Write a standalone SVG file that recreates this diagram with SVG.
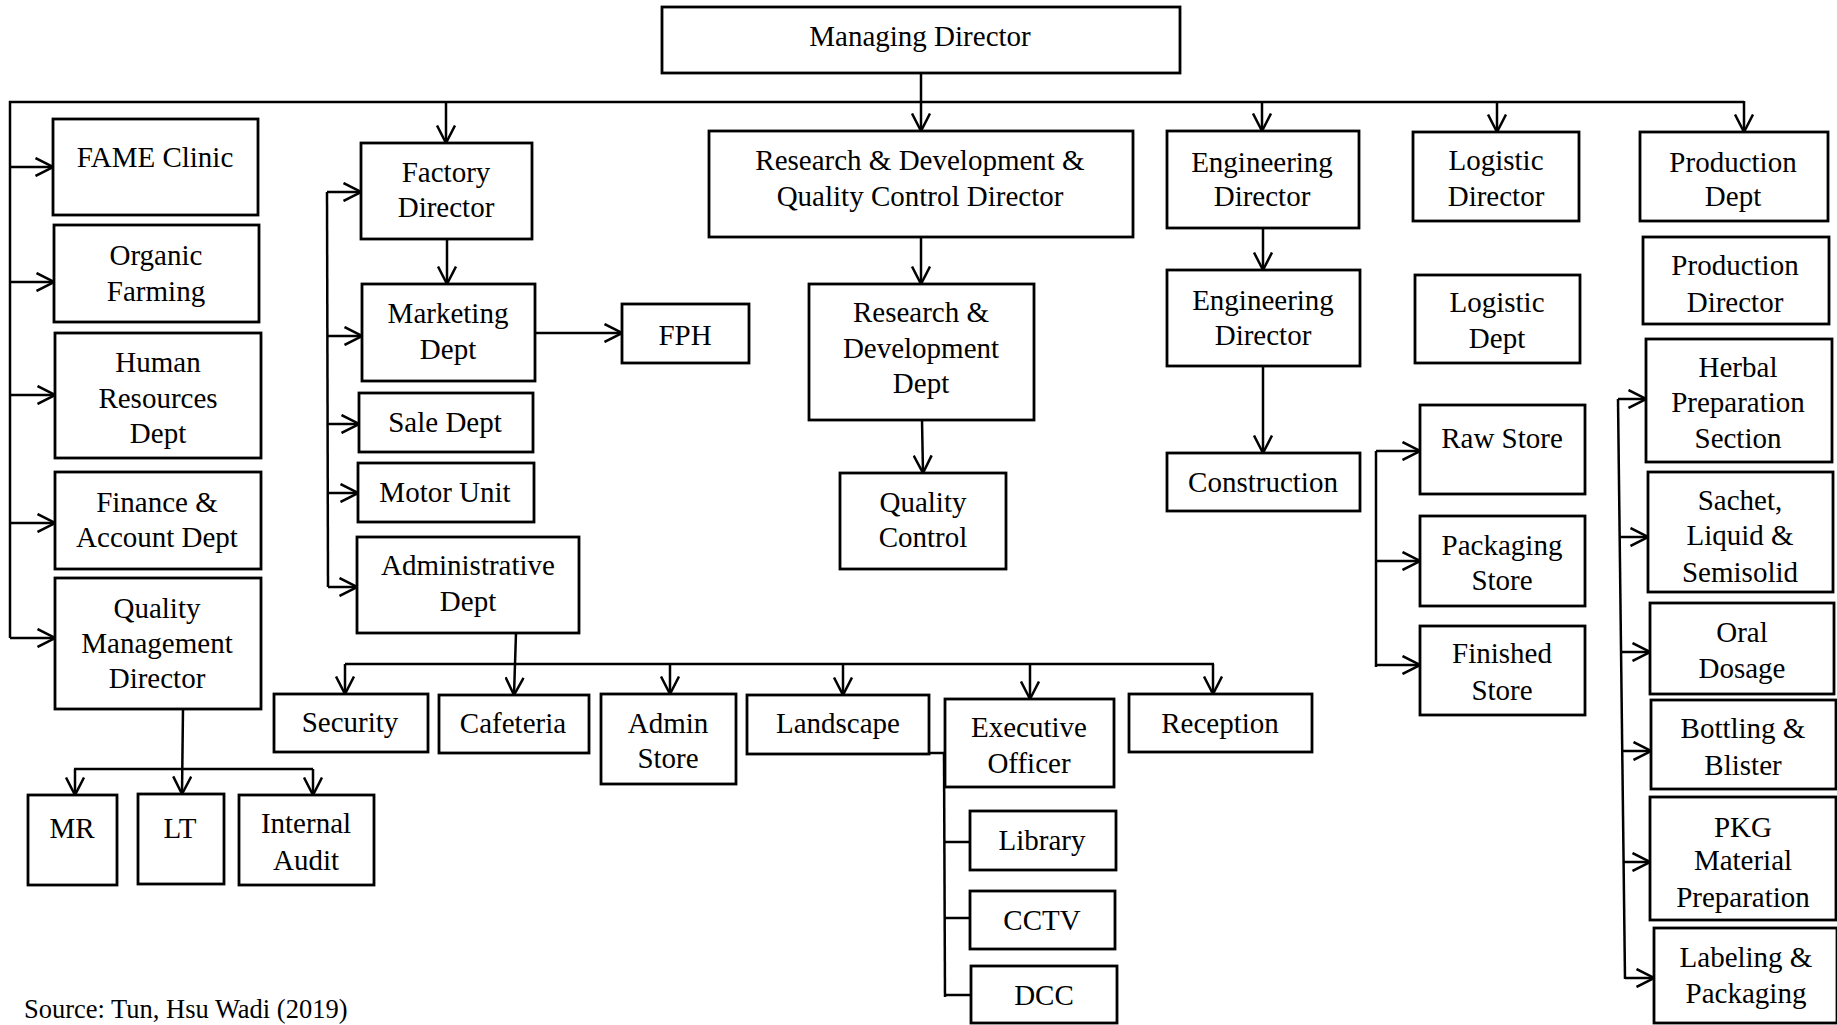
<svg xmlns="http://www.w3.org/2000/svg" width="1837" height="1025" viewBox="0 0 1837 1025">
<style>
.box{fill:#fff;stroke:#000;stroke-width:2.8}
.t{font-family:"Liberation Serif","Times New Roman",serif;font-size:29px;text-anchor:middle;fill:#000}
.src{font-family:"Liberation Serif","Times New Roman",serif;font-size:26.5px;fill:#000}
.c{fill:none;stroke:#000;stroke-width:2.5}
.a{fill:none;stroke:#000;stroke-width:2.5;marker-end:url(#arr)}
</style>
<defs>
<marker id="arr" viewBox="0 0 20 20" refX="18.5" refY="10" markerWidth="20" markerHeight="20" markerUnits="userSpaceOnUse" orient="auto">
<path d="M1,1 L18.5,10 L1,19" fill="none" stroke="#000" stroke-width="2.5"/>
</marker>
</defs>
<rect width="1837" height="1025" fill="#fff"/>

<g id="connectors">
<!-- main bus -->
<polyline class="c" points="10,638 10,102 1744,102"/>
<line class="a" x1="1744" y1="101" x2="1744" y2="132"/>
<line class="a" x1="921" y1="73" x2="921" y2="131"/>
<line class="a" x1="446" y1="102" x2="446" y2="143"/>
<line class="a" x1="1262" y1="102" x2="1262" y2="131"/>
<line class="a" x1="1497" y1="102" x2="1497" y2="132"/>
<!-- left column -->
<line class="a" x1="10" y1="167" x2="53" y2="167"/>
<line class="a" x1="10" y1="282" x2="54" y2="282"/>
<line class="a" x1="10" y1="395" x2="55" y2="395"/>
<line class="a" x1="10" y1="523" x2="55" y2="523"/>
<line class="a" x1="10" y1="638" x2="55" y2="638"/>
<!-- QMD children -->
<line class="a" x1="183" y1="709" x2="182" y2="794"/>
<line class="c" x1="74" y1="769" x2="313" y2="769"/>
<line class="a" x1="75" y1="769" x2="75" y2="795"/>
<line class="a" x1="313" y1="769" x2="313" y2="795"/>
<!-- factory column -->
<line class="c" x1="327" y1="192" x2="328" y2="587"/>
<line class="a" x1="327" y1="192" x2="361" y2="192"/>
<line class="a" x1="327" y1="336" x2="362" y2="336"/>
<line class="a" x1="327" y1="424" x2="359" y2="424"/>
<line class="a" x1="328" y1="493" x2="358" y2="493"/>
<line class="a" x1="328" y1="587" x2="357" y2="587"/>
<line class="a" x1="447" y1="239" x2="447" y2="284"/>
<line class="a" x1="535" y1="333" x2="622" y2="333"/>
<!-- admin children -->
<line class="a" x1="516" y1="633" x2="514" y2="695"/>
<line class="c" x1="345" y1="664" x2="1214" y2="664"/>
<line class="a" x1="345" y1="664" x2="345" y2="694"/>
<line class="a" x1="670" y1="664" x2="670" y2="694"/>
<line class="a" x1="843" y1="664" x2="843" y2="695"/>
<line class="a" x1="1030" y1="664" x2="1030" y2="699"/>
<line class="a" x1="1213" y1="664" x2="1213" y2="694"/>
<!-- EO children -->
<line class="c" x1="920" y1="753" x2="946" y2="753"/>
<line class="c" x1="944" y1="753" x2="945" y2="997"/>
<line class="c" x1="944" y1="842" x2="970" y2="842"/>
<line class="c" x1="944" y1="918" x2="970" y2="918"/>
<line class="c" x1="945" y1="995" x2="971" y2="995"/>
<!-- R&D -->
<line class="a" x1="921" y1="237" x2="921" y2="284"/>
<line class="a" x1="922" y1="420" x2="923" y2="473"/>
<!-- engineering -->
<line class="a" x1="1263" y1="228" x2="1263" y2="270"/>
<line class="a" x1="1263" y1="366" x2="1263" y2="453"/>
<!-- logistic stores -->
<line class="c" x1="1376" y1="451" x2="1376" y2="667"/>
<line class="a" x1="1376" y1="451" x2="1420" y2="451"/>
<line class="a" x1="1376" y1="561" x2="1420" y2="561"/>
<line class="a" x1="1376" y1="665" x2="1420" y2="665"/>
<!-- production sections -->
<line class="c" x1="1618" y1="399" x2="1625" y2="979"/>
<line class="a" x1="1618" y1="399" x2="1646" y2="399"/>
<line class="a" x1="1620" y1="537" x2="1648" y2="537"/>
<line class="a" x1="1621" y1="652" x2="1650" y2="652"/>
<line class="a" x1="1622" y1="751" x2="1651" y2="751"/>
<line class="a" x1="1623" y1="862" x2="1650" y2="862"/>
<line class="a" x1="1625" y1="978" x2="1654" y2="978"/>
</g>

<g id="managing-director"><rect class="box" x="662" y="7" width="518" height="66"/><text class="t" x="920" y="46">Managing Director</text></g>

<g id="fame-clinic"><rect class="box" x="53" y="119" width="205" height="96"/><text class="t" x="155" y="167">FAME Clinic</text></g>
<g id="organic-farming"><rect class="box" x="54" y="225" width="205" height="97"/><text class="t" x="156" y="265">Organic</text><text class="t" x="156" y="301">Farming</text></g>
<g id="human-resources"><rect class="box" x="55" y="333" width="206" height="125"/><text class="t" x="158" y="372">Human</text><text class="t" x="158" y="408">Resources</text><text class="t" x="158" y="443">Dept</text></g>
<g id="finance"><rect class="box" x="55" y="472" width="206" height="97"/><text class="t" x="157" y="512">Finance &amp;</text><text class="t" x="157" y="547">Account Dept</text></g>
<g id="quality-management"><rect class="box" x="55" y="578" width="206" height="131"/><text class="t" x="157" y="618">Quality</text><text class="t" x="157" y="653">Management</text><text class="t" x="157" y="688">Director</text></g>
<g id="mr"><rect class="box" x="28" y="795" width="89" height="90"/><text class="t" x="72" y="838">MR</text></g>
<g id="lt"><rect class="box" x="138" y="794" width="86" height="90"/><text class="t" x="180" y="838">LT</text></g>
<g id="internal-audit"><rect class="box" x="239" y="795" width="135" height="90"/><text class="t" x="306" y="833">Internal</text><text class="t" x="306" y="870">Audit</text></g>

<g id="factory-director"><rect class="box" x="361" y="143" width="171" height="96"/><text class="t" x="446" y="182">Factory</text><text class="t" x="446" y="217">Director</text></g>
<g id="marketing"><rect class="box" x="362" y="284" width="173" height="97"/><text class="t" x="448" y="323">Marketing</text><text class="t" x="448" y="359">Dept</text></g>
<g id="fph"><rect class="box" x="622" y="304" width="127" height="59"/><text class="t" x="685" y="345">FPH</text></g>
<g id="sale-dept"><rect class="box" x="359" y="393" width="174" height="59"/><text class="t" x="445" y="432">Sale Dept</text></g>
<g id="motor-unit"><rect class="box" x="358" y="463" width="176" height="59"/><text class="t" x="445" y="502">Motor Unit</text></g>
<g id="administrative"><rect class="box" x="357" y="537" width="222" height="96"/><text class="t" x="468" y="575">Administrative</text><text class="t" x="468" y="611">Dept</text></g>

<g id="security"><rect class="box" x="274" y="694" width="154" height="58"/><text class="t" x="350" y="732">Security</text></g>
<g id="cafeteria"><rect class="box" x="439" y="695" width="150" height="58"/><text class="t" x="513" y="733">Cafeteria</text></g>
<g id="admin-store"><rect class="box" x="601" y="694" width="135" height="90"/><text class="t" x="668" y="733">Admin</text><text class="t" x="668" y="768">Store</text></g>
<g id="landscape"><rect class="box" x="747" y="695" width="182" height="59"/><text class="t" x="838" y="733">Landscape</text></g>
<g id="executive-officer"><rect class="box" x="945" y="699" width="169" height="88"/><text class="t" x="1029" y="737">Executive</text><text class="t" x="1029" y="773">Officer</text></g>
<g id="reception"><rect class="box" x="1129" y="694" width="183" height="58"/><text class="t" x="1220" y="733">Reception</text></g>
<g id="library"><rect class="box" x="970" y="811" width="146" height="59"/><text class="t" x="1042" y="850">Library</text></g>
<g id="cctv"><rect class="box" x="970" y="891" width="145" height="58"/><text class="t" x="1042" y="930">CCTV</text></g>
<g id="dcc"><rect class="box" x="971" y="966" width="146" height="57"/><text class="t" x="1044" y="1005">DCC</text></g>

<g id="rd-qc-director"><rect class="box" x="709" y="131" width="424" height="106"/><text class="t" x="920" y="170">Research &amp; Development &amp;</text><text class="t" x="920" y="206">Quality Control Director</text></g>
<g id="rd-dept"><rect class="box" x="809" y="284" width="225" height="136"/><text class="t" x="921" y="322">Research &amp;</text><text class="t" x="921" y="358">Development</text><text class="t" x="921" y="393">Dept</text></g>
<g id="quality-control"><rect class="box" x="840" y="473" width="166" height="96"/><text class="t" x="923" y="512">Quality</text><text class="t" x="923" y="547">Control</text></g>

<g id="engineering-director-1"><rect class="box" x="1167" y="131" width="192" height="97"/><text class="t" x="1262" y="172">Engineering</text><text class="t" x="1262" y="206">Director</text></g>
<g id="engineering-director-2"><rect class="box" x="1167" y="270" width="193" height="96"/><text class="t" x="1263" y="310">Engineering</text><text class="t" x="1263" y="345">Director</text></g>
<g id="construction"><rect class="box" x="1167" y="453" width="193" height="58"/><text class="t" x="1263" y="492">Construction</text></g>

<g id="logistic-director"><rect class="box" x="1413" y="132" width="166" height="89"/><text class="t" x="1496" y="170">Logistic</text><text class="t" x="1496" y="206">Director</text></g>
<g id="logistic-dept"><rect class="box" x="1415" y="275" width="165" height="88"/><text class="t" x="1497" y="312">Logistic</text><text class="t" x="1497" y="348">Dept</text></g>
<g id="raw-store"><rect class="box" x="1420" y="405" width="165" height="89"/><text class="t" x="1502" y="448">Raw Store</text></g>
<g id="packaging-store"><rect class="box" x="1420" y="516" width="165" height="90"/><text class="t" x="1502" y="555">Packaging</text><text class="t" x="1502" y="590">Store</text></g>
<g id="finished-store"><rect class="box" x="1420" y="626" width="165" height="89"/><text class="t" x="1502" y="663">Finished</text><text class="t" x="1502" y="700">Store</text></g>

<g id="production-dept"><rect class="box" x="1640" y="132" width="188" height="89"/><text class="t" x="1733" y="172">Production</text><text class="t" x="1733" y="206">Dept</text></g>
<g id="production-director"><rect class="box" x="1643" y="237" width="186" height="87"/><text class="t" x="1735" y="275">Production</text><text class="t" x="1735" y="312">Director</text></g>
<g id="herbal"><rect class="box" x="1646" y="339" width="186" height="123"/><text class="t" x="1738" y="377">Herbal</text><text class="t" x="1738" y="412">Preparation</text><text class="t" x="1738" y="448">Section</text></g>
<g id="sachet"><rect class="box" x="1648" y="472" width="185" height="120"/><text class="t" x="1740" y="510">Sachet,</text><text class="t" x="1740" y="545">Liquid &amp;</text><text class="t" x="1740" y="582">Semisolid</text></g>
<g id="oral-dosage"><rect class="box" x="1650" y="603" width="184" height="91"/><text class="t" x="1742" y="642">Oral</text><text class="t" x="1742" y="678">Dosage</text></g>
<g id="bottling"><rect class="box" x="1651" y="700" width="185" height="89"/><text class="t" x="1743" y="738">Bottling &amp;</text><text class="t" x="1743" y="775">Blister</text></g>
<g id="pkg-material"><rect class="box" x="1650" y="797" width="186" height="123"/><text class="t" x="1743" y="837">PKG</text><text class="t" x="1743" y="870">Material</text><text class="t" x="1743" y="907">Preparation</text></g>
<g id="labeling"><rect class="box" x="1654" y="928" width="183" height="95"/><text class="t" x="1746" y="967">Labeling &amp;</text><text class="t" x="1746" y="1003">Packaging</text></g>

<text class="src" x="24" y="1018">Source: Tun, Hsu Wadi (2019)</text>
</svg>
